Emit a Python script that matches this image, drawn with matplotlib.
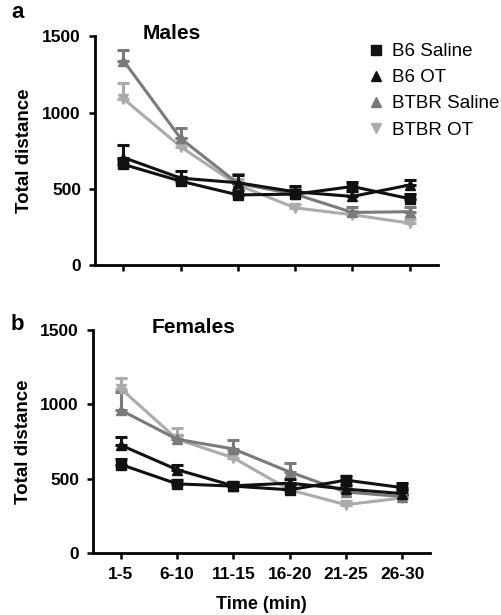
import matplotlib
matplotlib.use("Agg")
import matplotlib.pyplot as plt
import numpy as np

plt.rcParams['font.family'] = ['Liberation Sans', 'DejaVu Sans']

time_labels = ["1-5", "6-10", "11-15", "16-20", "21-25", "26-30"]
groups = ["B6 Saline", "B6 OT", "BTBR Saline", "BTBR OT"]

males_mean = {
    "B6 Saline":   [660, 550, 460, 465, 515, 435],
    "B6 OT":       [705, 570, 540, 480, 450, 525],
    "BTBR Saline": [1340, 830, 535, 465, 345, 350],
    "BTBR OT":     [1090, 775, 525, 375, 330, 275],
}
males_err = {
    "B6 Saline":   [30, 30, 30, 30, 30, 30],
    "B6 OT":       [85, 50, 50, 40, 35, 35],
    "BTBR Saline": [70, 70, 60, 40, 35, 30],
    "BTBR OT":     [105, 60, 40, 25, 25, 25],
}
females_mean = {
    "B6 Saline":   [595, 465, 450, 425, 490, 440],
    "B6 OT":       [725, 560, 452, 470, 430, 400],
    "BTBR Saline": [960, 765, 700, 545, 410, 380],
    "BTBR OT":     [1105, 765, 640, 425, 325, 370],
}
females_err = {
    "B6 Saline":   [40, 25, 25, 30, 30, 30],
    "B6 OT":       [55, 35, 25, 30, 30, 25],
    "BTBR Saline": [125, 30, 60, 60, 30, 20],
    "BTBR OT":     [75, 75, 40, 30, 25, 20],
}

colors = {"B6 Saline": "#111111", "B6 OT": "#111111",
          "BTBR Saline": "#7a7a7a", "BTBR OT": "#ababab"}
markers = {"B6 Saline": "s", "B6 OT": "^", "BTBR Saline": "^", "BTBR OT": "v"}
draw_order = ["BTBR OT", "BTBR Saline", "B6 OT", "B6 Saline"]

fig = plt.figure(figsize=(5.02, 6.15), dpi=100)
ax_a = fig.add_axes([0.189, 0.569, 0.684, 0.372])
ax_b = fig.add_axes([0.185, 0.1008, 0.672, 0.3626])

x = np.arange(len(time_labels))

def draw(ax, means, errs, title, tx, show_xlabels):
    handles = {}
    for g in draw_order:
        m = np.array(means[g]); e = np.array(errs[g])
        ax.errorbar(x, m, yerr=[np.zeros_like(e), e], color=colors[g], lw=2.2,
                    capsize=4, capthick=2.2, elinewidth=2.2, fmt='none', zorder=2)
        h, = ax.plot(x, m, color=colors[g], lw=2.2, marker=markers[g],
                     markersize=7, zorder=3, label=g)
        handles[g] = h
    ax.set_xlim(-0.5, 5.5)
    ax.set_ylim(0, 1500)
    ax.set_yticks([0, 500, 1000, 1500])
    ax.set_xticks(x)
    if show_xlabels:
        ax.set_xticklabels(time_labels)
    else:
        ax.set_xticklabels([])
    for s in ["top", "right"]:
        ax.spines[s].set_visible(False)
    for s in ["left", "bottom"]:
        ax.spines[s].set_linewidth(2)
    ax.tick_params(axis='both', width=1.8, length=4, labelsize=12.5, pad=6)
    for lab in ax.get_yticklabels() + ax.get_xticklabels():
        lab.set_fontweight('bold')
    ax.set_ylabel("Total distance", fontsize=13.5, fontweight='bold')
    ax.text(tx, 1.01, title, transform=ax.transAxes, fontsize=15,
            fontweight='bold', va='center', ha='left')
    return handles

ha = draw(ax_a, males_mean, males_err, "Males", 0.14, False)
draw(ax_b, females_mean, females_err, "Females", 0.175, True)
ax_a.yaxis.set_label_coords(-0.18, 0.5)
ax_b.yaxis.set_label_coords(-0.18, 0.5)
ax_b.set_xlabel("Time (min)", fontsize=13, fontweight='bold', labelpad=10)

leg = fig.legend([ha[g] for g in groups], groups, loc='upper left',
                 bbox_to_anchor=(0.736, 0.930), frameon=False, fontsize=13.5,
                 handlelength=0.7, handletextpad=0.5, labelspacing=0.48,
                 borderaxespad=0, borderpad=0)
for h in leg.legend_handles:
    h.set_linestyle('none')

fig.text(0.022, 0.98, "a", fontsize=16, fontweight='bold', va='center')
fig.text(0.022, 0.472, "b", fontsize=16, fontweight='bold', va='center')

fig.savefig("out.png", dpi=100)
